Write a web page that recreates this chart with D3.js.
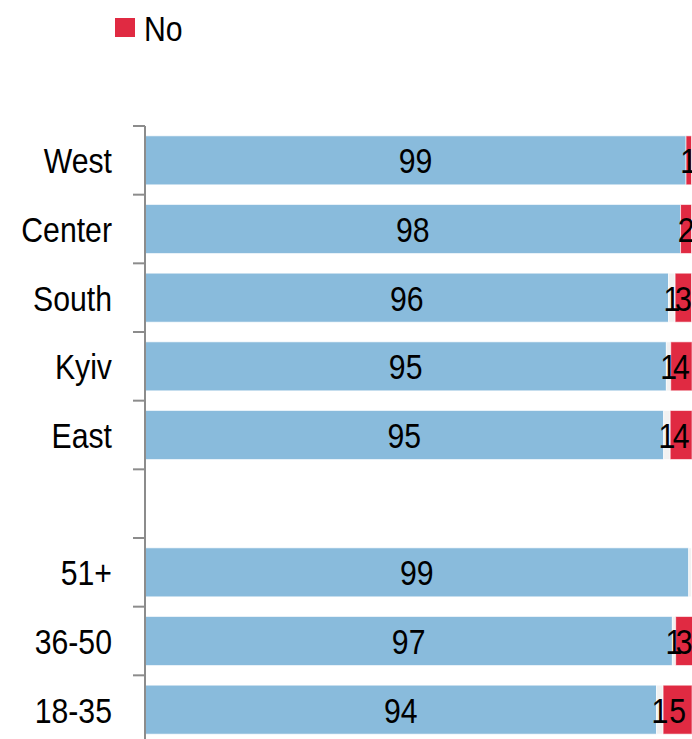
<!DOCTYPE html>
<html>
<head>
<meta charset="utf-8">
<script src="https://cdn.jsdelivr.net/npm/d3@7"></script>
<style>
  body { margin: 0; background: #fff; }
  svg text { font-family: "Liberation Sans Narrow", "Arial Narrow", "Liberation Sans", sans-serif; fill: #000; }
</style>
</head>
<body>
<div id="chart"></div>
<script>
// rows top to bottom; the empty one is the gap between region and age groups
const categories = ["West", "Center", "South", "Kyiv", "East", "", "51+", "36-50", "18-35"];
const yesValues  = [99, 98, 95.8, 95.4, 94.9, null, 99.49, 96.5, 93.6];
const dkValues   = [0, 0, 1.2, 0.8, 1.2, null, 0.49, 0.6, 1.2];
const noValues   = [1, 2, 3, 3.9, 4, null, 0, 3.1, 5.3];
const legendLabels = ["No"];

const width = 692, height = 739;
const colors = { yes: "#89bbdc", dk: "#f1f1f1", no: "#e02a42" };
const squeeze = 0.84; // no narrow font installed, so condense horizontally

const rows = categories.map((c, i) => ({
    key: c === "" ? "_gap" : c,
    label: c,
    yes: yesValues[i] || 0,
    dk: dkValues[i] || 0,
    no: noValues[i] || 0,
    empty: yesValues[i] == null
}));

const svg = d3.select("#chart").append("svg")
    .attr("width", width)
    .attr("height", height);

const x = d3.scaleLinear().domain([0, 100]).range([145, 691.5]);
const pad = 0.287;
const y = d3.scaleBand()
    .domain(rows.map(d => d.key))
    .range([126, 744])
    .paddingInner(pad)
    .paddingOuter(pad / 2);

const place = (px, py) => `translate(${px},${py}) scale(${squeeze},1)`;

const stack = d3.stack().keys(["yes", "dk", "no"]);
const series = stack(rows.filter(d => !d.empty));

// bars
svg.append("g").selectAll("g")
    .data(series)
    .join("g")
    .attr("fill", s => colors[s.key])
    .selectAll("rect")
    .data(s => s)
    .join("rect")
    .attr("x", d => x(d[0]))
    .attr("y", d => y(d.data.key))
    .attr("width", d => Math.max(0, x(d[1]) - x(d[0])))
    .attr("height", y.bandwidth())
    .attr("stroke", "#fff")
    .attr("stroke-opacity", 0.6)
    .attr("stroke-width", 1);

// value labels
series.forEach(s => {
    svg.append("g").selectAll("text")
        .data(s.filter(d => Math.round(d[1] - d[0]) >= 1))
        .join("text")
        .attr("transform", d => place((x(d[0]) + x(d[1])) / 2, y(d.data.key) + y.bandwidth() / 2))
        .attr("dy", "0.36em")
        .attr("text-anchor", "middle")
        .attr("font-size", 36)
        .text(d => Math.round(d[1] - d[0]));
});

// axis line and ticks at band boundaries
const axis = svg.append("g").attr("stroke", "#8c8c8c").attr("stroke-width", 2);
axis.append("line")
    .attr("x1", x(0)).attr("x2", x(0))
    .attr("y1", y.range()[0]).attr("y2", height);
const offs = y.step() * pad / 2;
axis.selectAll("line.tick")
    .data(rows)
    .join("line")
    .attr("class", "tick")
    .attr("x1", x(0) - 12).attr("x2", x(0))
    .attr("y1", d => y(d.key) - offs)
    .attr("y2", d => y(d.key) - offs);

// category labels
svg.append("g").selectAll("text")
    .data(rows)
    .join("text")
    .attr("transform", d => place(112, y(d.key) + y.bandwidth() / 2))
    .attr("dy", "0.36em")
    .attr("text-anchor", "end")
    .attr("font-size", 36)
    .text(d => d.label);

// legend
const legend = svg.append("g").selectAll("g")
    .data(legendLabels)
    .join("g")
    .attr("transform", "translate(115,18)");
legend.append("rect")
    .attr("width", 20).attr("height", 19)
    .attr("fill", colors.no);
legend.append("text")
    .attr("transform", place(29, 10))
    .attr("dy", "0.36em")
    .attr("font-size", 36)
    .text(d => d);
</script>
</body>
</html>
